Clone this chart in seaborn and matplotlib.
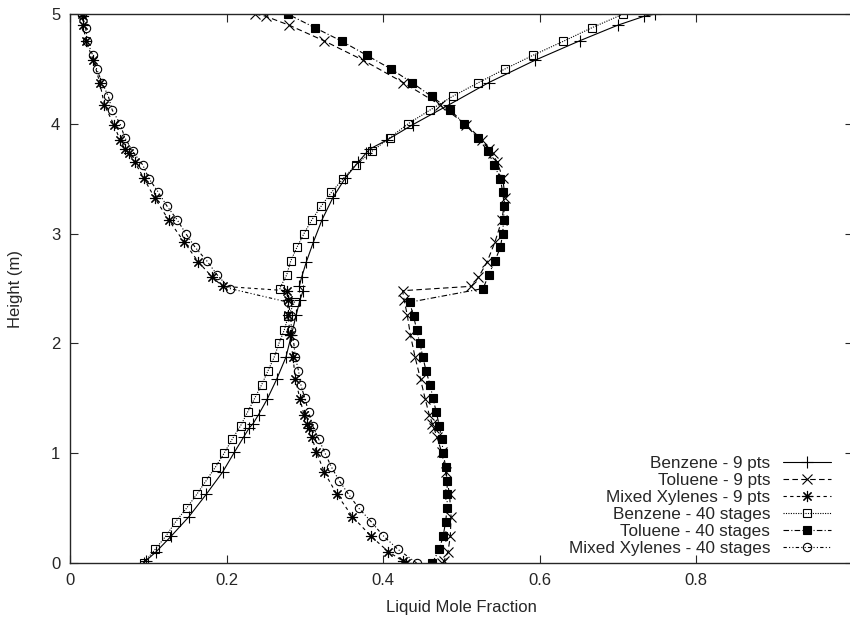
import matplotlib
matplotlib.use('Agg')
import matplotlib.pyplot as plt
import seaborn as sns

# heights of the 9 collocation points per finite element (4 elements of 1.25 m) plus the ends
height_9pts = [0.0, 0.020, 0.102, 0.242, 0.422, 0.625, 0.828, 1.008, 1.148, 1.230,
               1.270, 1.352, 1.492, 1.672, 1.875, 2.078, 2.258, 2.398, 2.480,
               2.520, 2.602, 2.742, 2.922, 3.125, 3.328, 3.508, 3.648, 3.730,
               3.770, 3.852, 3.992, 4.172, 4.375, 4.578, 4.758, 4.898, 4.980, 5.0]

benzene_9pts = [0.094, 0.097, 0.110, 0.129, 0.152, 0.174, 0.195, 0.210, 0.222, 0.229,
                0.234, 0.241, 0.252, 0.264, 0.276, 0.283, 0.289, 0.294, 0.298,
                0.293, 0.296, 0.302, 0.311, 0.322, 0.336, 0.352, 0.368, 0.378,
                0.383, 0.405, 0.438, 0.484, 0.535, 0.594, 0.652, 0.700, 0.734, 0.748]

toluene_9pts = [0.476, 0.478, 0.483, 0.486, 0.487, 0.485, 0.480, 0.475, 0.469, 0.465,
                0.463, 0.459, 0.454, 0.448, 0.441, 0.435, 0.431, 0.427, 0.425,
                0.513, 0.522, 0.533, 0.543, 0.552, 0.556, 0.553, 0.546, 0.540,
                0.536, 0.527, 0.506, 0.473, 0.426, 0.375, 0.324, 0.280, 0.250, 0.236]

xylenes_9pts = [0.430, 0.425, 0.407, 0.385, 0.361, 0.341, 0.325, 0.315, 0.309, 0.306,
                0.303, 0.299, 0.294, 0.288, 0.285, 0.281, 0.279, 0.278, 0.277,
                0.195, 0.182, 0.164, 0.146, 0.126, 0.108, 0.094, 0.083, 0.075,
                0.070, 0.064, 0.056, 0.044, 0.038, 0.030, 0.020, 0.017, 0.016, 0.015]

# 40 equilibrium stages, one point every 0.125 m
height_40 = [0.0, 0.125, 0.25, 0.375, 0.5, 0.625, 0.75, 0.875, 1.0, 1.125,
             1.25, 1.375, 1.5, 1.625, 1.75, 1.875, 2.0, 2.125, 2.25, 2.375,
             2.5, 2.625, 2.75, 2.875, 3.0, 3.125, 3.25, 3.375, 3.5, 3.625,
             3.75, 3.875, 4.0, 4.125, 4.25, 4.375, 4.5, 4.625, 4.75, 4.875, 5.0]

benzene_40 = [0.094, 0.109, 0.123, 0.135, 0.149, 0.162, 0.174, 0.186, 0.197, 0.207,
              0.218, 0.227, 0.236, 0.245, 0.253, 0.261, 0.267, 0.274, 0.279, 0.287,
              0.268, 0.277, 0.282, 0.290, 0.299, 0.309, 0.321, 0.334, 0.349, 0.365,
              0.386, 0.409, 0.432, 0.460, 0.489, 0.522, 0.556, 0.592, 0.630, 0.667, 0.707]

toluene_40 = [0.463, 0.472, 0.477, 0.480, 0.482, 0.482, 0.482, 0.480, 0.477, 0.475,
              0.472, 0.468, 0.464, 0.460, 0.455, 0.451, 0.447, 0.443, 0.439, 0.434,
              0.528, 0.535, 0.543, 0.550, 0.553, 0.554, 0.555, 0.553, 0.550, 0.542,
              0.534, 0.521, 0.504, 0.486, 0.462, 0.437, 0.410, 0.379, 0.348, 0.313, 0.278]

xylenes_40 = [0.443, 0.419, 0.400, 0.385, 0.369, 0.356, 0.344, 0.334, 0.326, 0.318,
              0.310, 0.305, 0.300, 0.295, 0.292, 0.288, 0.286, 0.283, 0.282, 0.279,
              0.204, 0.188, 0.175, 0.160, 0.148, 0.137, 0.124, 0.113, 0.101, 0.093,
              0.080, 0.070, 0.064, 0.054, 0.049, 0.041, 0.034, 0.029, 0.022, 0.020, 0.015]

series = [
    ('Benzene - 9 pts', benzene_9pts, height_9pts, dict(marker='+', ms=8, linestyle='-')),
    ('Toluene - 9 pts', toluene_9pts, height_9pts, dict(marker='x', ms=7, dashes=(5, 3))),
    ('Mixed Xylenes - 9 pts', xylenes_9pts, height_9pts, dict(marker=(8, 2, 0), ms=8, dashes=(3, 3))),
    ('Benzene - 40 stages', benzene_40, height_40, dict(marker='s', ms=6, mfc='none', dashes=(1, 1.2))),
    ('Toluene - 40 stages', toluene_40, height_40, dict(marker='s', ms=6, mfc='k', dashes=(5, 2, 1, 2))),
    ('Mixed Xylenes - 40 stages', xylenes_40, height_40, dict(marker='o', ms=6, mfc='none', dashes=(3, 2, 1, 2, 1, 2))),
]

sns.set_style('ticks')
plt.rcParams['font.family'] = ['Liberation Sans', 'DejaVu Sans']

fig = plt.figure(figsize=(8.5, 6.19), dpi=100)
ax = fig.add_axes([70 / 850, 56 / 619, 782.5 / 850, 549 / 619])

for name, xs, hs, style in series:
    sns.lineplot(x=xs, y=hs, orient='y', sort=False, estimator=None, ax=ax,
                 color='k', lw=0.8, mec='k', mew=0.8, label=name, **style)

ax.set_xlim(0, 1)
ax.set_ylim(0, 5)
ax.set_xticks([0, 0.2, 0.4, 0.6, 0.8])
ax.set_xticklabels(['0', '0.2', '0.4', '0.6', '0.8'])
ax.set_yticks([0, 1, 2, 3, 4, 5])
ax.tick_params(direction='in', length=6, width=0.8, top=True, right=True,
               labelsize=12, pad=7)
for sp in ax.spines.values():
    sp.set_linewidth(1.0)
    sp.set_visible(True)

ax.set_xlabel('Liquid Mole Fraction', fontsize=12, labelpad=9)
ax.set_ylabel('Height (m)', fontsize=12, labelpad=20)

leg = ax.legend(loc='lower right', bbox_to_anchor=(0.9725, 0.013), frameon=False,
                markerfirst=False, fontsize=12.3, handlelength=2.8, handletextpad=0.75,
                labelspacing=0.12, borderpad=0, borderaxespad=0)

fig.savefig('out.png', dpi=100)
